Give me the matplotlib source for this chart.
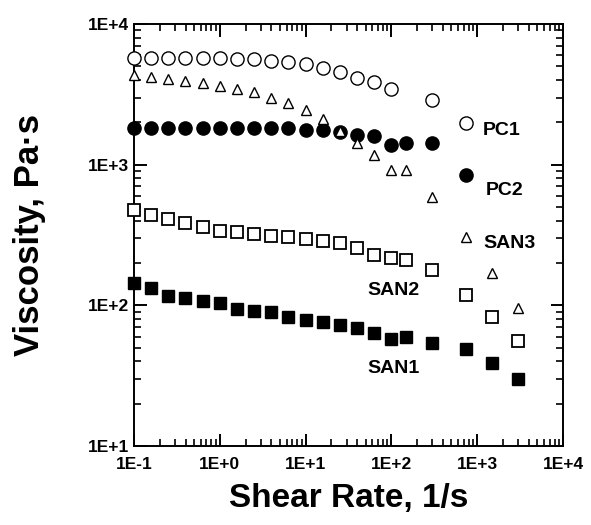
import numpy as np
import matplotlib.pyplot as plt
from matplotlib.ticker import LogLocator, FuncFormatter, NullFormatter

plt.rcParams['font.family'] = ['Liberation Sans', 'DejaVu Sans']
plt.rcParams['font.weight'] = 'bold'

# shear rates (1/s)
rate_lo = [0.1, 0.158, 0.251, 0.398, 0.631, 1.0, 1.58, 2.51, 3.98, 6.31,
           10.0, 15.8, 25.1, 39.8, 63.1, 100.0]
rate_pc1 = rate_lo + [300, 750]
rate_pc2 = rate_lo + [150, 300, 750]
rate_all = rate_lo + [150, 300, 750, 1500, 3000]

# viscosities (Pa.s)
pc1 = [5730, 5730, 5730, 5730, 5730, 5730, 5625, 5625, 5445, 5355,
       5185, 4860, 4550, 4130, 3865, 3445, 2878, 1976]
pc2 = [1820, 1820, 1820, 1820, 1820, 1820, 1820, 1820, 1820, 1820,
       1762, 1762, 1706, 1624, 1597, 1377, 1423, 1423, 843]
san3 = [4335, 4197, 4060, 3927, 3800, 3620, 3445, 3282, 2974, 2740,
        2445, 2110, 1733, 1423, 1170, 915, 915, 589, 306, 170, 96]
san2 = [475, 438, 410, 385, 360, 338, 332, 321, 311, 306,
        296, 287, 277, 256, 228, 217, 210, 178, 118, 83, 56]
san1 = [144, 133, 116, 113, 107, 104, 94, 91, 90, 83,
        79, 76, 72, 69, 64, 58, 60, 54, 49, 39, 30]

fig = plt.figure(figsize=(5.91, 5.25), dpi=100)
ax = fig.add_axes([0.2267, 0.1505, 0.7259, 0.8038])

ax.plot(rate_pc1, pc1, 'o', ms=9.5, mfc='white', mec='black', mew=1.0, clip_on=False, zorder=3)
ax.plot(rate_pc2, pc2, 'o', ms=9.5, mfc='black', mec='black', clip_on=False, zorder=3)
ax.plot(rate_all, san3, '^', ms=7.5, mfc='white', mec='black', mew=1.0, clip_on=False, zorder=4)
ax.plot(rate_all, san2, 's', ms=8, mfc='white', mec='black', mew=1.3, clip_on=False, zorder=3)
ax.plot(rate_all, san1, 's', ms=8.5, mfc='black', mec='black', clip_on=False, zorder=3)

ax.set_xscale('log')
ax.set_yscale('log')
ax.set_xlim(0.1, 1e4)
ax.set_ylim(10, 1e4)

fmt = FuncFormatter(lambda v, p: '1E%+d' % int(round(np.log10(v))))
for a in (ax.xaxis, ax.yaxis):
    a.set_major_locator(LogLocator(base=10, numticks=10))
    a.set_minor_locator(LogLocator(base=10, subs=np.arange(2, 10), numticks=10))
    a.set_major_formatter(fmt)
    a.set_minor_formatter(NullFormatter())

ax.tick_params(which='both', direction='in', top=True, right=True, labelsize=12.5)
ax.tick_params(which='major', length=9, width=1.4)
ax.tick_params(axis='x', which='major', pad=8)
ax.tick_params(which='minor', length=5, width=1.2)
for s in ax.spines.values():
    s.set_linewidth(1.4)
for lab in ax.get_xticklabels() + ax.get_yticklabels():
    lab.set_fontweight('bold')

ax.set_xlabel('Shear Rate, 1/s', fontsize=24, fontweight='bold', labelpad=8)
ax.set_ylabel('Viscosity, Pa\u00b7s', fontsize=25, fontweight='bold', labelpad=30)

ax.text(1170, 1762, 'PC1', fontsize=14, fontweight='bold', va='center')
ax.text(1260, 659, 'PC2', fontsize=14, fontweight='bold', va='center')
ax.text(1170, 277, 'SAN3', fontsize=14, fontweight='bold', va='center')
ax.text(53, 128, 'SAN2', fontsize=14, fontweight='bold', va='center')
ax.text(53, 35.8, 'SAN1', fontsize=14, fontweight='bold', va='center')

fig.savefig('out.png', dpi=100)
